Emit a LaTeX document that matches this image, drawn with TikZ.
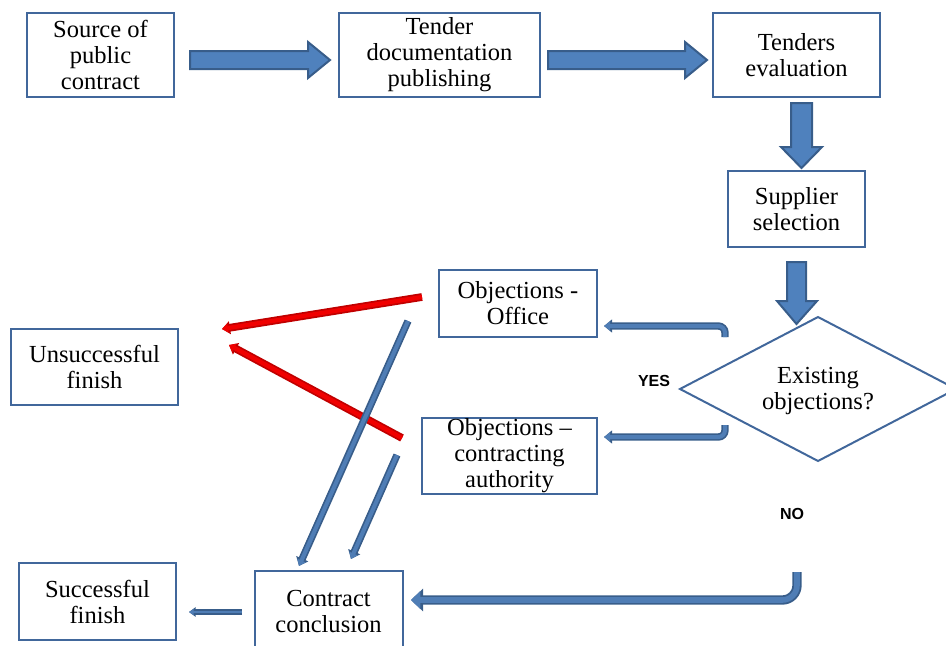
\documentclass[tikz,border=0pt]{standalone}
\usepackage{fontspec}
\setmainfont{Liberation Serif}
\newfontfamily\labfont{Liberation Sans}
\usetikzlibrary{arrows.meta,calc}
\definecolor{boxline}{HTML}{41679B}
\definecolor{arrfill}{HTML}{4F81BD}
\definecolor{arrline}{HTML}{385D8A}
\definecolor{pipelight}{HTML}{4F7DB5}
\definecolor{redlight}{HTML}{F00000}
\definecolor{reddark}{HTML}{C00000}
\begin{document}
\begin{tikzpicture}[x=0.75pt,y=-0.75pt,
 box/.style={draw=boxline, line width=1.5pt, align=center, inner sep=0pt,
   font=\fontsize{18.4pt}{19.5pt}\selectfont},
 sz/.style 2 args={minimum width=#1*0.75pt, minimum height=#2*0.75pt},
 blockarrow/.style={fill=arrfill, draw=arrline, line width=1.5pt, line join=miter},
 pipe/.style={draw=pipelight, line width=3pt, -{Triangle[length=4.5pt,width=6.5pt]},
   preaction={draw=arrline, line width=5.5pt, -{Triangle[length=6pt,width=9.5pt]}}},
 bigpipe/.style={draw=pipelight, line width=4.2pt, -{Triangle[length=7pt,width=13pt]},
   preaction={draw=arrline, line width=7pt, -{Triangle[length=9pt,width=16.5pt]}}},
 smallpipe/.style={draw=pipelight, line width=2pt, -{Triangle[length=3.5pt,width=4.5pt]},
   preaction={draw=arrline, line width=3.8pt, -{Triangle[length=5pt,width=7pt]}}},
 redpipe/.style={draw=redlight, line width=3.2pt, -{Triangle[length=4.5pt,width=6.5pt]},
   preaction={draw=reddark, line width=5.8pt, -{Triangle[length=6pt,width=9.5pt]}}},
 lab/.style={font=\labfont\bfseries\fontsize{12pt}{14pt}\selectfont}
]
\useasboundingbox (0,0) rectangle (946,646);

% boxes
\node[box, sz={147}{84}] (src) at (100.5,55) {Source of\\public\\contract};
\node[box, sz={201}{84}] (tdp) at (439.5,55) {Tender\\documentation\\publishing};
\node[box, sz={167}{84}] (tev) at (796.5,55) {Tenders\\evaluation};
\node[box, sz={137}{76}] (sup) at (796.5,209) {Supplier\\selection};
\node[box, sz={158}{67}] (obo) at (518,303.5) {Objections -\\Office};
\node[box, sz={175}{76}] (oca) at (509.5,456) {Objections --\\contracting\\authority};
\node[box, sz={167}{76}] (uns) at (94.5,367) {Unsuccessful\\finish};
\node[box, sz={157}{77}] (suc) at (97.5,601.5) {Successful\\finish};
\node[box, sz={148}{80}] (con) at (328.5,611) {Contract\\conclusion};

% decision diamond
\coordinate (dl) at (680,389);
\coordinate (dt) at (818,317);
\coordinate (dr) at (956,389);
\coordinate (db) at (818,461);
\draw[draw=boxline, line width=1.5pt, line join=miter] (dl)--(dt)--(dr)--(db)--cycle;
\node[font=\fontsize{18.4pt}{19.5pt}\selectfont, align=center, inner sep=0pt] (dia) at (818,391) {Existing\\objections?};

% block arrows
\draw[blockarrow] (190,51)--(308,51)--(308,42)--(330,60)--(308,78)--(308,69)--(190,69)--cycle;
\draw[blockarrow] (548,51)--(685,51)--(685,42)--(707,60)--(685,78)--(685,69)--(548,69)--cycle;
\draw[blockarrow] (791,103)--(812,103)--(812,147)--(822,147)--(801.5,168)--(781,147)--(791,147)--cycle;
\draw[blockarrow] (787,262)--(806,262)--(806,301)--(817,301)--(796.5,324)--(777,301)--(787,301)--cycle;

% labels
\node[lab] (yes) at (654,381) {YES};
\node[lab] (no) at (792,514) {NO};

% connector end points
\coordinate (y1s) at (725,337);
\coordinate (y1e) at (604,326);
\coordinate (y2s) at (725,425);
\coordinate (y2e) at (604,437);
\coordinate (nos) at (797,572);
\coordinate (noe) at (411,600);
\coordinate (r1s) at (422,297);
\coordinate (r1e) at (222,329);
\coordinate (r2s) at (402,438);
\coordinate (r2e) at (229,345);
\coordinate (b1s) at (408,321);
\coordinate (b1e) at (299,566);
\coordinate (b2s) at (397,455);
\coordinate (b2e) at (351,559);
\coordinate (cs) at (242,612);
\coordinate (ce) at (189,612);

% connectors
\draw[pipe, rounded corners=5pt] (y1s) |- (y1e);
\draw[pipe, rounded corners=5pt] (y2s) |- (y2e);
\draw[bigpipe, rounded corners=11pt] (nos) |- (noe);
\draw[redpipe] (r1s) -- (r1e);
\draw[redpipe] (r2s) -- (r2e);
\draw[pipe] (b1s) -- (b1e);
\draw[pipe] (b2s) -- (b2e);
\draw[smallpipe] (cs) -- (ce);
\end{tikzpicture}
\end{document}
